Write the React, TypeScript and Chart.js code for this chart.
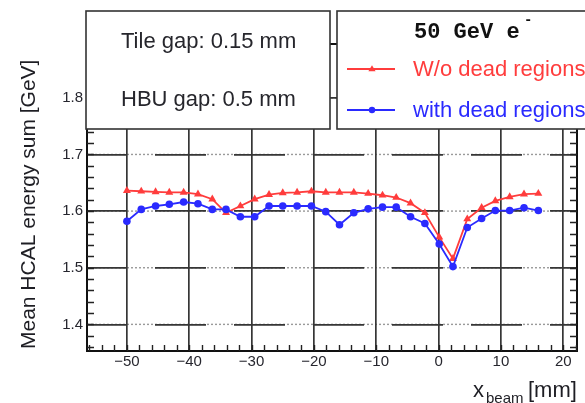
import React, { useEffect, useRef } from "react";
import { Chart, registerables } from "chart.js";

Chart.register(...registerables);

// x_beam positions [mm]
const X_BEAM = [-50, -47.7, -45.4, -43.2, -40.9, -38.6, -36.3, -34.1, -31.8, -29.5, -27.2, -25.0, -22.7, -20.4, -18.1, -15.9, -13.6, -11.3, -9.0, -6.8, -4.5, -2.2, 0.1, 2.3, 4.6, 6.9, 9.1, 11.4, 13.7, 16.0];
// Mean HCAL energy sum [GeV], without dead regions
const WO_DEAD = [1.636, 1.635, 1.634, 1.633, 1.633, 1.630, 1.621, 1.597, 1.609, 1.621, 1.629, 1.632, 1.633, 1.635, 1.633, 1.633, 1.633, 1.631, 1.628, 1.624, 1.614, 1.597, 1.554, 1.516, 1.586, 1.606, 1.618, 1.625, 1.630, 1.631];
// Mean HCAL energy sum [GeV], with dead regions
const WITH_DEAD = [1.582, 1.603, 1.609, 1.612, 1.616, 1.613, 1.603, 1.603, 1.590, 1.590, 1.609, 1.609, 1.609, 1.609, 1.599, 1.576, 1.597, 1.604, 1.607, 1.607, 1.590, 1.578, 1.542, 1.502, 1.571, 1.587, 1.601, 1.601, 1.606, 1.601];

const X_TICKS = [-50, -40, -30, -20, -10, 0, 10, 20];
const X_TICK_LABELS = ["\u221250", "\u221240", "\u221230", "\u221220", "\u221210", "0", "10", "20"];
const Y_TICKS = [1.4, 1.5, 1.6, 1.7, 1.8];
const Y_TICK_LABELS = ["1.4", "1.5", "1.6", "1.7", "1.8"];

const LEGEND_TITLE = "50 GeV e";
const LEGEND_WO = "W/o dead regions";
const LEGEND_WITH = "with dead regions";
const INFO_1 = "Tile gap: 0.15 mm";
const INFO_2 = "HBU gap: 0.5 mm";
const Y_TITLE = "Mean HCAL energy sum [GeV]";

const RED = "#ff3c3c";
const BLUE = "#2a2aff";
const SANS = "'Liberation Sans', Arial, sans-serif";
const MONO = "'Liberation Mono', 'Courier New', monospace";

function drawTriangle(ctx: CanvasRenderingContext2D, x: number, y: number, r: number, color: string) {
  ctx.beginPath();
  ctx.moveTo(x, y - r);
  ctx.lineTo(x + r * 0.95, y + r * 0.6);
  ctx.lineTo(x - r * 0.95, y + r * 0.6);
  ctx.closePath();
  ctx.fillStyle = color;
  ctx.fill();
}

const decorPlugin = {
  id: "decor",
  beforeDraw(chart: any) {
    // faint dotted grid under the dashed major grid lines
    const ctx: CanvasRenderingContext2D = chart.ctx;
    const { left, right } = chart.chartArea;
    const ys = chart.scales.y;
    ctx.save();
    ctx.fillStyle = "#fff";
    ctx.fillRect(0, 0, chart.width, chart.height);
    ctx.strokeStyle = "#9a9a9a";
    ctx.lineWidth = 1.4;
    ctx.setLineDash([2, 2]);
    Y_TICKS.forEach((v) => {
      const py = ys.getPixelForValue(v);
      ctx.beginPath();
      ctx.moveTo(left, py);
      ctx.lineTo(right, py);
      ctx.stroke();
    });
    ctx.restore();
  },
  afterDraw(chart: any) {
    const ctx: CanvasRenderingContext2D = chart.ctx;
    const { left, right, top, bottom } = chart.chartArea;
    const xs = chart.scales.x;
    const ys = chart.scales.y;
    ctx.save();

    // frame
    ctx.strokeStyle = "#111";
    ctx.lineWidth = 2;
    ctx.strokeRect(left, top, right - left, bottom - top);

    // minor ticks (inward)
    ctx.lineWidth = 1.4;
    ctx.strokeStyle = "#222";
    for (let v = 1.36; v < 1.9; v += 0.02) {
      const py = Math.round(ys.getPixelForValue(v)) + 0.5;
      if (py < top || py > bottom) continue;
      ctx.beginPath();
      ctx.moveTo(left, py);
      ctx.lineTo(left + 7, py);
      ctx.moveTo(right, py);
      ctx.lineTo(right - 7, py);
      ctx.stroke();
    }
    for (let v = -56; v <= 22; v += 2) {
      const px = Math.round(xs.getPixelForValue(v)) + 0.5;
      if (px < left || px > right) continue;
      ctx.beginPath();
      ctx.moveTo(px, bottom);
      ctx.lineTo(px, bottom - 6);
      ctx.stroke();
    }

    // tick labels
    ctx.fillStyle = "#26262e";
    ctx.font = `15px ${SANS}`;
    ctx.textAlign = "right";
    ctx.textBaseline = "middle";
    Y_TICKS.forEach((v, i) => {
      ctx.fillText(Y_TICK_LABELS[i], left - 4, ys.getPixelForValue(v));
    });
    ctx.textAlign = "center";
    X_TICKS.forEach((v, i) => {
      ctx.fillText(X_TICK_LABELS[i], xs.getPixelForValue(v), bottom + 11);
    });

    // axis titles
    ctx.fillStyle = "#1e1e24";
    ctx.save();
    ctx.translate(35, 349);
    ctx.rotate(-Math.PI / 2);
    ctx.font = `21px ${SANS}`;
    ctx.textAlign = "left";
    ctx.textBaseline = "alphabetic";
    ctx.fillText(Y_TITLE, 0, 0);
    ctx.restore();

    ctx.textAlign = "left";
    ctx.textBaseline = "alphabetic";
    ctx.font = `22px ${SANS}`;
    ctx.fillText("x", 473, 397);
    ctx.font = `15px ${SANS}`;
    ctx.fillText("beam", 486, 403);
    ctx.font = `22px ${SANS}`;
    ctx.fillText("[mm]", 528, 397);

    // info box
    ctx.fillStyle = "#fff";
    ctx.strokeStyle = "#333";
    ctx.lineWidth = 1.6;
    ctx.fillRect(86, 11, 244, 118);
    ctx.strokeRect(86, 11, 244, 118);
    ctx.fillStyle = "#26262c";
    ctx.font = `22px ${SANS}`;
    ctx.fillText(INFO_1, 121, 48);
    ctx.fillText(INFO_2, 121, 106);

    // legend box
    ctx.fillStyle = "#fff";
    ctx.fillRect(337, 11, 270, 118);
    ctx.strokeRect(337, 11, 270, 118);
    ctx.fillStyle = "#111";
    ctx.font = `bold 22px ${MONO}`;
    ctx.fillText(LEGEND_TITLE, 414, 38);
    ctx.font = `bold 14px ${MONO}`;
    ctx.fillText("-", 524, 24);

    ctx.lineWidth = 1.8;
    ctx.strokeStyle = RED;
    ctx.beginPath();
    ctx.moveTo(347, 69);
    ctx.lineTo(395, 69);
    ctx.stroke();
    drawTriangle(ctx, 372, 69, 3.8, RED);
    ctx.strokeStyle = BLUE;
    ctx.beginPath();
    ctx.moveTo(347, 110);
    ctx.lineTo(395, 110);
    ctx.stroke();
    ctx.fillStyle = BLUE;
    ctx.beginPath();
    ctx.arc(372, 110, 3.2, 0, Math.PI * 2);
    ctx.fill();

    ctx.font = `22px ${SANS}`;
    ctx.fillStyle = RED;
    ctx.fillText(LEGEND_WO, 413, 76);
    ctx.fillStyle = BLUE;
    ctx.fillText(LEGEND_WITH, 413, 117);

    ctx.restore();
  },
};

export default function App() {
  const ref = useRef<HTMLCanvasElement | null>(null);
  useEffect(() => {
    if (!ref.current) return;
    const blue = X_BEAM.map((x, i) => ({ x, y: WITH_DEAD[i] }));
    const red = X_BEAM.map((x, i) => ({ x, y: WO_DEAD[i] }));
    const chart = new Chart(ref.current, {
      type: "line",
      data: {
        datasets: [
          {
            label: LEGEND_WITH,
            data: blue,
            borderColor: BLUE,
            backgroundColor: BLUE,
            borderWidth: 1.8,
            pointStyle: "circle",
            pointRadius: 3.8,
            pointBorderWidth: 0,
            tension: 0,
          },
          {
            label: LEGEND_WO,
            data: red,
            borderColor: RED,
            backgroundColor: RED,
            borderWidth: 1.8,
            pointStyle: "triangle",
            pointRadius: 4.6,
            pointBorderWidth: 0,
            tension: 0,
          },
        ],
      },
      options: {
        animation: false,
        responsive: false,
        maintainAspectRatio: false,
        events: [],
        layout: { padding: { left: 87, right: 8, top: 44, bottom: 52 } },
        plugins: { legend: { display: false }, tooltip: { enabled: false }, title: { display: false } },
        scales: {
          x: {
            type: "linear",
            min: -56.4,
            max: 22.2,
            ticks: { display: false, stepSize: 10, includeBounds: false },
            grid: { color: "#363636", lineWidth: 1.7, drawTicks: false },
            border: { display: false },
          },
          y: {
            type: "linear",
            min: 1.353,
            max: 1.895,
            ticks: { display: false, stepSize: 0.1, includeBounds: false },
            grid: { color: "#363636", lineWidth: 1.7, drawTicks: false },
            border: { display: false, dash: [51, 28], dashOffset: 11 },
          },
        },
      },
      plugins: [decorPlugin],
    });
    return () => chart.destroy();
  }, []);
  return (
    <div style={{ position: "fixed", left: 0, top: 0, width: 585, height: 403, background: "#fff", overflow: "hidden" }}>
      <canvas ref={ref} width={585} height={403} style={{ width: 585, height: 403, display: "block" }} />
    </div>
  );
}
